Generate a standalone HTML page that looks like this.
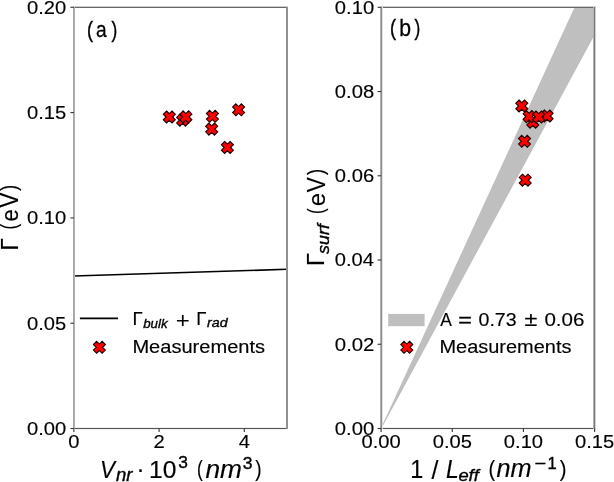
<!DOCTYPE html><html><head><meta charset="utf-8"><style>
html,body{margin:0;padding:0;background:#fff;} svg{display:block;will-change:transform;}
text{font-family:"Liberation Sans", sans-serif;fill:#000;stroke:#000;stroke-width:0.15px;}
</style></head><body><svg width="614" height="482" viewBox="0 0 614 482">
<rect x="0" y="0" width="614" height="482" fill="#fff"/>
<line x1="73.9" y1="276" x2="286.9" y2="269.3" stroke="#000" stroke-width="1.6"/>
<path d="M166.54,111.00 L169.30,113.76 L172.06,111.00 L175.30,114.24 L172.54,117.00 L175.30,119.76 L172.06,123.00 L169.30,120.24 L166.54,123.00 L163.30,119.76 L166.06,117.00 L163.30,114.24Z" fill="#ff0000" stroke="#1a0000" stroke-width="1.1" stroke-linejoin="miter"/>
<path d="M179.89,114.15 L182.65,116.91 L185.41,114.15 L188.65,117.39 L185.89,120.15 L188.65,122.91 L185.41,126.15 L182.65,123.39 L179.89,126.15 L176.65,122.91 L179.41,120.15 L176.65,117.39Z" fill="#ff0000" stroke="#1a0000" stroke-width="1.1" stroke-linejoin="miter"/>
<path d="M183.14,110.90 L185.90,113.66 L188.66,110.90 L191.90,114.14 L189.14,116.90 L191.90,119.66 L188.66,122.90 L185.90,120.14 L183.14,122.90 L179.90,119.66 L182.66,116.90 L179.90,114.14Z" fill="#ff0000" stroke="#1a0000" stroke-width="1.1" stroke-linejoin="miter"/>
<path d="M209.64,110.30 L212.40,113.06 L215.16,110.30 L218.40,113.54 L215.64,116.30 L218.40,119.06 L215.16,122.30 L212.40,119.54 L209.64,122.30 L206.40,119.06 L209.16,116.30 L206.40,113.54Z" fill="#ff0000" stroke="#1a0000" stroke-width="1.1" stroke-linejoin="miter"/>
<path d="M208.94,123.10 L211.70,125.86 L214.46,123.10 L217.70,126.34 L214.94,129.10 L217.70,131.86 L214.46,135.10 L211.70,132.34 L208.94,135.10 L205.70,131.86 L208.46,129.10 L205.70,126.34Z" fill="#ff0000" stroke="#1a0000" stroke-width="1.1" stroke-linejoin="miter"/>
<path d="M235.84,103.80 L238.60,106.56 L241.36,103.80 L244.60,107.04 L241.84,109.80 L244.60,112.56 L241.36,115.80 L238.60,113.04 L235.84,115.80 L232.60,112.56 L235.36,109.80 L232.60,107.04Z" fill="#ff0000" stroke="#1a0000" stroke-width="1.1" stroke-linejoin="miter"/>
<path d="M224.64,141.50 L227.40,144.26 L230.16,141.50 L233.40,144.74 L230.64,147.50 L233.40,150.26 L230.16,153.50 L227.40,150.74 L224.64,153.50 L221.40,150.26 L224.16,147.50 L221.40,144.74Z" fill="#ff0000" stroke="#1a0000" stroke-width="1.1" stroke-linejoin="miter"/>
<polygon points="381.1,428.5 574.9,7.3 594.6,7.3 594.6,34.2" fill="#bfbfbf" stroke="#b0b0b0" stroke-width="0.5" stroke-linejoin="round"/>
<path d="M519.04,100.00 L521.80,102.76 L524.56,100.00 L527.80,103.24 L525.04,106.00 L527.80,108.76 L524.56,112.00 L521.80,109.24 L519.04,112.00 L515.80,108.76 L518.56,106.00 L515.80,103.24Z" fill="#ff0000" stroke="#1a0000" stroke-width="1.1" stroke-linejoin="miter"/>
<path d="M530.04,116.20 L532.80,118.96 L535.56,116.20 L538.80,119.44 L536.04,122.20 L538.80,124.96 L535.56,128.20 L532.80,125.44 L530.04,128.20 L526.80,124.96 L529.56,122.20 L526.80,119.44Z" fill="#ff0000" stroke="#1a0000" stroke-width="1.1" stroke-linejoin="miter"/>
<path d="M526.34,110.60 L529.10,113.36 L531.86,110.60 L535.10,113.84 L532.34,116.60 L535.10,119.36 L531.86,122.60 L529.10,119.84 L526.34,122.60 L523.10,119.36 L525.86,116.60 L523.10,113.84Z" fill="#ff0000" stroke="#1a0000" stroke-width="1.1" stroke-linejoin="miter"/>
<path d="M544.34,110.00 L547.10,112.76 L549.86,110.00 L553.10,113.24 L550.34,116.00 L553.10,118.76 L549.86,122.00 L547.10,119.24 L544.34,122.00 L541.10,118.76 L543.86,116.00 L541.10,113.24Z" fill="#ff0000" stroke="#1a0000" stroke-width="1.1" stroke-linejoin="miter"/>
<path d="M535.94,111.00 L538.70,113.76 L541.46,111.00 L544.70,114.24 L541.94,117.00 L544.70,119.76 L541.46,123.00 L538.70,120.24 L535.94,123.00 L532.70,119.76 L535.46,117.00 L532.70,114.24Z" fill="#ff0000" stroke="#1a0000" stroke-width="1.1" stroke-linejoin="miter"/>
<path d="M521.74,135.30 L524.50,138.06 L527.26,135.30 L530.50,138.54 L527.74,141.30 L530.50,144.06 L527.26,147.30 L524.50,144.54 L521.74,147.30 L518.50,144.06 L521.26,141.30 L518.50,138.54Z" fill="#ff0000" stroke="#1a0000" stroke-width="1.1" stroke-linejoin="miter"/>
<path d="M522.44,174.20 L525.20,176.96 L527.96,174.20 L531.20,177.44 L528.44,180.20 L531.20,182.96 L527.96,186.20 L525.20,183.44 L522.44,186.20 L519.20,182.96 L521.96,180.20 L519.20,177.44Z" fill="#ff0000" stroke="#1a0000" stroke-width="1.1" stroke-linejoin="miter"/>
<rect x="73" y="6" width="215" height="1" fill="rgb(205,205,205)"/>
<rect x="73" y="7" width="215" height="1" fill="rgb(102,102,102)"/>
<rect x="73" y="427" width="215" height="1" fill="rgb(238,238,238)"/>
<rect x="73" y="428" width="215" height="1" fill="rgb(85,85,85)"/>
<rect x="73" y="429" width="215" height="1" fill="rgb(242,242,242)"/>
<rect x="380" y="6" width="216" height="1" fill="rgb(205,205,205)"/>
<rect x="380" y="7" width="216" height="1" fill="rgb(102,102,102)"/>
<rect x="380" y="427" width="216" height="1" fill="rgb(238,238,238)"/>
<rect x="380" y="428" width="216" height="1" fill="rgb(85,85,85)"/>
<rect x="380" y="429" width="216" height="1" fill="rgb(242,242,242)"/>
<rect x="73" y="7" width="1" height="422" fill="rgb(165,165,165)"/>
<rect x="74" y="7" width="1" height="422" fill="rgb(176,176,176)"/>
<rect x="286" y="7" width="1" height="422" fill="rgb(144,144,144)"/>
<rect x="287" y="7" width="1" height="422" fill="rgb(144,144,144)"/>
<rect x="380" y="7" width="1" height="422" fill="rgb(175,175,175)"/>
<rect x="381" y="7" width="1" height="422" fill="rgb(140,140,140)"/>
<rect x="382" y="7" width="1" height="422" fill="rgb(225,225,225)"/>
<rect x="593" y="7" width="1" height="422" fill="rgb(178,178,178)"/>
<rect x="594" y="7" width="1" height="422" fill="rgb(120,120,120)"/>
<rect x="595" y="7" width="1" height="422" fill="rgb(208,208,208)"/>
<line x1="70.4" y1="428.50" x2="73.9" y2="428.50" stroke="#333" stroke-width="1.1"/>
<line x1="70.4" y1="323.20" x2="73.9" y2="323.20" stroke="#333" stroke-width="1.1"/>
<line x1="70.4" y1="217.90" x2="73.9" y2="217.90" stroke="#333" stroke-width="1.1"/>
<line x1="70.4" y1="112.60" x2="73.9" y2="112.60" stroke="#333" stroke-width="1.1"/>
<line x1="70.4" y1="7.30" x2="73.9" y2="7.30" stroke="#333" stroke-width="1.1"/>
<line x1="377.6" y1="428.50" x2="381.1" y2="428.50" stroke="#333" stroke-width="1.1"/>
<line x1="377.6" y1="344.26" x2="381.1" y2="344.26" stroke="#333" stroke-width="1.1"/>
<line x1="377.6" y1="260.02" x2="381.1" y2="260.02" stroke="#333" stroke-width="1.1"/>
<line x1="377.6" y1="175.78" x2="381.1" y2="175.78" stroke="#333" stroke-width="1.1"/>
<line x1="377.6" y1="91.54" x2="381.1" y2="91.54" stroke="#333" stroke-width="1.1"/>
<line x1="377.6" y1="7.30" x2="381.1" y2="7.30" stroke="#333" stroke-width="1.1"/>
<line x1="73.90" y1="428.5" x2="73.90" y2="432.0" stroke="#333" stroke-width="1.1"/>
<line x1="159.10" y1="428.5" x2="159.10" y2="432.0" stroke="#333" stroke-width="1.1"/>
<line x1="244.30" y1="428.5" x2="244.30" y2="432.0" stroke="#333" stroke-width="1.1"/>
<line x1="381.10" y1="428.5" x2="381.10" y2="432.0" stroke="#333" stroke-width="1.1"/>
<line x1="452.27" y1="428.5" x2="452.27" y2="432.0" stroke="#333" stroke-width="1.1"/>
<line x1="523.43" y1="428.5" x2="523.43" y2="432.0" stroke="#333" stroke-width="1.1"/>
<line x1="594.60" y1="428.5" x2="594.60" y2="432.0" stroke="#333" stroke-width="1.1"/>
<line x1="79.9" y1="318.4" x2="118" y2="318.4" stroke="#000" stroke-width="1.6"/>
<path d="M96.64,341.30 L99.40,344.06 L102.16,341.30 L105.40,344.54 L102.64,347.30 L105.40,350.06 L102.16,353.30 L99.40,350.54 L96.64,353.30 L93.40,350.06 L96.16,347.30 L93.40,344.54Z" fill="#ff0000" stroke="#1a0000" stroke-width="1.1" stroke-linejoin="miter"/>
<rect x="388.2" y="313.9" width="36.4" height="12.3" fill="#bfbfbf"/>
<path d="M404.04,341.30 L406.80,344.06 L409.56,341.30 L412.80,344.54 L410.04,347.30 L412.80,350.06 L409.56,353.30 L406.80,350.54 L404.04,353.30 L400.80,350.06 L403.56,347.30 L400.80,344.54Z" fill="#ff0000" stroke="#1a0000" stroke-width="1.1" stroke-linejoin="miter"/>
<g transform="matrix(1.0080 0 0 0.9404 66.26 434.96)"><text x="0" y="0" font-size="20" text-anchor="end">0.00</text></g>
<g transform="matrix(1.0080 0 0 0.9404 66.26 329.66)"><text x="0" y="0" font-size="20" text-anchor="end">0.05</text></g>
<g transform="matrix(1.0080 0 0 0.9404 66.26 224.36)"><text x="0" y="0" font-size="20" text-anchor="end">0.10</text></g>
<g transform="matrix(1.0080 0 0 0.9404 66.26 119.06)"><text x="0" y="0" font-size="20" text-anchor="end">0.15</text></g>
<g transform="matrix(1.0080 0 0 0.9404 66.26 13.76)"><text x="0" y="0" font-size="20" text-anchor="end">0.20</text></g>
<g transform="matrix(1.0107 0 0 0.9404 374.16 434.96)"><text x="0" y="0" font-size="20" text-anchor="end">0.00</text></g>
<g transform="matrix(1.0174 0 0 0.9404 374.42 350.72)"><text x="0" y="0" font-size="20" text-anchor="end">0.02</text></g>
<g transform="matrix(1.0040 0 0 0.9404 373.90 266.48)"><text x="0" y="0" font-size="20" text-anchor="end">0.04</text></g>
<g transform="matrix(1.0107 0 0 0.9404 374.16 182.24)"><text x="0" y="0" font-size="20" text-anchor="end">0.06</text></g>
<g transform="matrix(1.0107 0 0 0.9404 374.16 98.00)"><text x="0" y="0" font-size="20" text-anchor="end">0.08</text></g>
<g transform="matrix(1.0107 0 0 0.9404 374.16 13.76)"><text x="0" y="0" font-size="20" text-anchor="end">0.10</text></g>
<g transform="matrix(1.0089 0 0 0.9404 73.90 447.91)"><text x="0" y="0" font-size="20" text-anchor="middle">0</text></g>
<g transform="matrix(1.0089 0 0 0.9404 159.10 448.03)"><text x="0" y="0" font-size="20" text-anchor="middle">2</text></g>
<g transform="matrix(1.0089 0 0 0.9404 244.43 447.80)"><text x="0" y="0" font-size="20" text-anchor="middle">4</text></g>
<g transform="matrix(1.0080 0 0 0.9474 381.10 447.96)"><text x="0" y="0" font-size="20" text-anchor="middle">0.00</text></g>
<g transform="matrix(1.0080 0 0 0.9474 452.27 447.96)"><text x="0" y="0" font-size="20" text-anchor="middle">0.05</text></g>
<g transform="matrix(1.0080 0 0 0.9474 523.43 447.96)"><text x="0" y="0" font-size="20" text-anchor="middle">0.10</text></g>
<g transform="matrix(1.0080 0 0 0.9474 594.60 447.96)"><text x="0" y="0" font-size="20" text-anchor="middle">0.15</text></g>
<g transform="matrix(0.7846 0 0 0.9591 87.02 36.80)"><text x="0" y="0" font-size="23" text-anchor="start" style="stroke-width:0.4px">(</text></g>
<g transform="matrix(0.8327 0 0 0.9882 96.08 37.35)"><text x="0" y="0" font-size="23" text-anchor="start" style="stroke-width:0.3px">a</text></g>
<g transform="matrix(0.7556 0 0 0.9591 111.39 36.80)"><text x="0" y="0" font-size="23" text-anchor="start" style="stroke-width:0.4px">)</text></g>
<g transform="matrix(0.7846 0 0 0.9591 390.02 34.80)"><text x="0" y="0" font-size="23" text-anchor="start" style="stroke-width:0.4px">(</text></g>
<g transform="matrix(0.9209 0 0 1.0261 399.15 35.99)"><text x="0" y="0" font-size="23" text-anchor="start" style="stroke-width:0.3px">b</text></g>
<g transform="matrix(0.7556 0 0 0.9591 414.39 34.80)"><text x="0" y="0" font-size="23" text-anchor="start" style="stroke-width:0.4px">)</text></g>
<g transform="matrix(0.9765 0 0 0.9811 132.44 325.20)"><text x="0" y="0" font-size="19" text-anchor="start">Γ</text></g>
<g transform="matrix(0.9864 0 0 0.9561 143.20 327.56)"><text x="0" y="0" font-size="13.5" font-style="italic" text-anchor="start" style="stroke-width:0.35px">bulk</text></g>
<g transform="matrix(1.2649 0 0 1.1243 175.84 327.77)"><text x="0" y="0" font-size="19" text-anchor="start" style="stroke-width:0px">+</text></g>
<g transform="matrix(0.9765 0 0 0.9811 196.24 325.20)"><text x="0" y="0" font-size="19" text-anchor="start">Γ</text></g>
<g transform="matrix(1.0550 0 0 0.9463 207.00 327.46)"><text x="0" y="0" font-size="13.5" font-style="italic" text-anchor="start" style="stroke-width:0.35px">rad</text></g>
<g transform="matrix(1.0567 0 0 0.9630 132.41 352.96)"><text x="0" y="0" font-size="19" text-anchor="start">Measurements</text></g>
<g transform="matrix(0.9176 0 0 0.9962 440.20 325.80)"><text x="0" y="0" font-size="19" text-anchor="start">A</text></g>
<g transform="matrix(1.2316 0 0 0.9440 458.18 325.67)"><text x="0" y="0" font-size="19" text-anchor="start" style="stroke-width:0.3px">=</text></g>
<g transform="matrix(1.0310 0 0 0.9926 478.53 325.55)"><text x="0" y="0" font-size="19" text-anchor="start">0.73</text></g>
<g transform="matrix(1.2316 0 0 1.0933 524.38 325.80)"><text x="0" y="0" font-size="19" text-anchor="start" style="stroke-width:0.15px">±</text></g>
<g transform="matrix(1.0817 0 0 0.9926 544.39 325.55)"><text x="0" y="0" font-size="19" text-anchor="start">0.06</text></g>
<g transform="matrix(1.0510 0 0 0.9630 439.42 352.96)"><text x="0" y="0" font-size="19" text-anchor="start">Measurements</text></g>
<g transform="matrix(1.0169 0 0 1.1267 100.12 477.50)"><text x="0" y="0" font-size="22" font-style="italic" text-anchor="start">V</text></g>
<g transform="matrix(1.1931 0 0 1.1412 115.90 481.01)"><text x="0" y="0" font-size="15.5" font-style="italic" text-anchor="start" style="stroke-width:0.35px">nr</text></g>
<g transform="matrix(1.0929 0 0 1.1086 136.54 476.75)"><text x="0" y="0" font-size="22" text-anchor="start">·</text></g>
<g transform="matrix(1.1191 0 0 1.0839 149.12 477.53)"><text x="0" y="0" font-size="22" text-anchor="start">10</text></g>
<g transform="matrix(1.1200 0 0 1.0818 178.34 468.43)"><text x="0" y="0" font-size="15.5" text-anchor="start" style="stroke-width:0.35px">3</text></g>
<g transform="matrix(0.7833 0 0 1.0222 196.92 476.00)"><text x="0" y="0" font-size="22" text-anchor="start">(</text></g>
<g transform="matrix(1.1966 0 0 1.1404 205.40 477.50)"><text x="0" y="0" font-size="22" font-style="italic" text-anchor="start">nm</text></g>
<g transform="matrix(1.1333 0 0 1.1000 242.63 468.73)"><text x="0" y="0" font-size="15.5" text-anchor="start" style="stroke-width:0.35px">3</text></g>
<g transform="matrix(0.8667 0 0 1.0272 255.30 476.08)"><text x="0" y="0" font-size="22" text-anchor="start">)</text></g>
<g transform="matrix(1.0667 0 0 1.1333 410.30 477.50)"><text x="0" y="0" font-size="22" text-anchor="start">1</text></g>
<g transform="matrix(1.1360 0 0 1.1812 431.50 479.40)"><text x="0" y="0" font-size="22" text-anchor="start">/</text></g>
<g transform="matrix(1.0439 0 0 1.1400 446.08 477.80)"><text x="0" y="0" font-size="22" font-style="italic" text-anchor="start">L</text></g>
<g transform="matrix(1.1838 0 0 1.0957 458.40 480.63)"><text x="0" y="0" font-size="15.5" font-style="italic" text-anchor="start" style="stroke-width:0.35px">eff</text></g>
<g transform="matrix(0.9000 0 0 1.0272 488.38 475.88)"><text x="0" y="0" font-size="22" text-anchor="start">(</text></g>
<g transform="matrix(1.1492 0 0 1.1319 496.51 477.30)"><text x="0" y="0" font-size="22" font-style="italic" text-anchor="start">nm</text></g>
<g transform="matrix(1.2750 0 0 1.0667 534.56 468.90)"><text x="0" y="0" font-size="15.5" text-anchor="start" style="stroke-width:0.35px">−</text></g>
<g transform="matrix(1.0714 0 0 1.0909 547.43 468.53)"><text x="0" y="0" font-size="15.5" text-anchor="start" style="stroke-width:0.35px">1</text></g>
<g transform="matrix(0.9167 0 0 1.0272 559.80 476.08)"><text x="0" y="0" font-size="22" text-anchor="start">)</text></g>
<g transform="matrix(1.0123 0 0 0.7833 16.24 190.80)"><text x="0" y="0" font-size="22" text-anchor="start" transform="rotate(-90)">)</text></g>
<g transform="matrix(1.1400 0 0 1.0069 18.00 207.60)"><text x="0" y="0" font-size="22" text-anchor="start" transform="rotate(-90)">V</text></g>
<g transform="matrix(1.0667 0 0 1.0000 18.03 221.55)"><text x="0" y="0" font-size="22" text-anchor="start" transform="rotate(-90)">e</text></g>
<g transform="matrix(1.0123 0 0 0.7500 16.44 229.44)"><text x="0" y="0" font-size="22" text-anchor="start" transform="rotate(-90)">(</text></g>
<g transform="matrix(1.1082 0 0 1.0256 17.52 250.39)"><text x="0" y="0" font-size="22" text-anchor="start" transform="rotate(-90)">Γ</text></g>
<g transform="matrix(1.0370 0 0 0.8500 323.33 174.90)"><text x="0" y="0" font-size="22" text-anchor="start" transform="rotate(-90)">)</text></g>
<g transform="matrix(1.1533 0 0 1.0276 324.80 192.20)"><text x="0" y="0" font-size="22" text-anchor="start" transform="rotate(-90)">V</text></g>
<g transform="matrix(1.1167 0 0 1.0857 324.72 206.21)"><text x="0" y="0" font-size="22" text-anchor="start" transform="rotate(-90)">e</text></g>
<g transform="matrix(1.0370 0 0 0.7667 323.33 213.96)"><text x="0" y="0" font-size="22" text-anchor="start" transform="rotate(-90)">(</text></g>
<g transform="matrix(1.0885 0 0 1.0564 323.93 266.05)"><text x="0" y="0" font-size="22" text-anchor="start" transform="rotate(-90)">Γ</text></g>
<g transform="matrix(1.0870 0 0 1.1527 328.63 253.90)"><text x="0" y="0" font-size="15.5" font-style="italic" text-anchor="start" transform="rotate(-90)" style="stroke-width:0.35px">surf</text></g>
</svg></body></html>
